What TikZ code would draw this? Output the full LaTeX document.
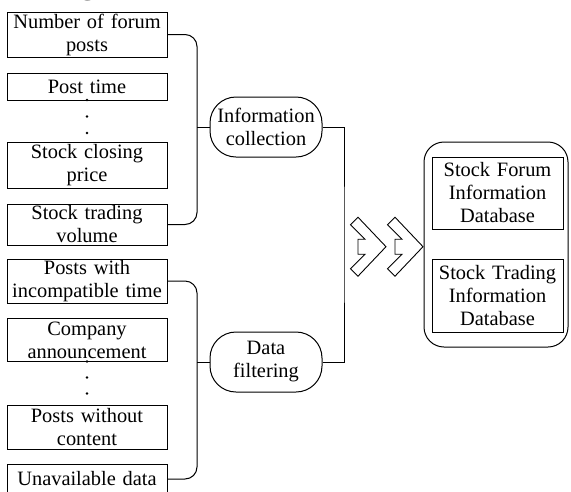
\documentclass[tikz,border=0pt]{standalone}
\usepackage{fontspec}
\setmainfont{Liberation Serif}
\newcommand\itemfont{\fontsize{20.4}{23}\selectfont}
\begin{document}
\begin{tikzpicture}[x=1pt,y=-1pt,
  link/.style={draw, line width=1pt},
  bracket/.style={link, rounded corners=12pt},
  item/.style={draw, line width=1pt, rectangle, inner sep=0pt,
    minimum width=160pt, text width=158pt, align=center, font=\itemfont},
  stage/.style={draw, line width=1pt, rounded corners=26pt, inner sep=0pt,
    minimum width=112pt, minimum height=60pt, align=center, font=\itemfont},
  db/.style={draw, line width=1pt, rounded corners=20pt, inner sep=0pt,
    minimum width=144pt, minimum height=205pt},
  dbitem/.style={draw, line width=1pt, inner sep=0pt, minimum width=131pt,
    text width=129pt, align=center, font=\itemfont},
  vdot/.style={fill=black, circle, inner sep=0pt, minimum size=2.6pt},
  chevron/.pic={
    \draw[line width=0.9pt, line join=miter]
      (-35.5,-22) -- (-28,-29.5) -- (0,0) -- (-28,29.5) -- (-35.5,22)
      -- (-21,7.5) -- (-28,7.5) -- (-28,-7.5) -- (-21,-7.5) -- cycle;
  }]
\useasboundingbox (0,0) rectangle (571,491);
\clip (0,0) rectangle (571,491);

% heading glyph cut by the top edge
\node[font=\fontsize{34}{34}\selectfont, anchor=base, inner sep=0pt] (head) at (88,-7) {g};

% collected items
\node[item, minimum height=45pt] (b1) at (87,34.5) {Number of forum\\posts};
\node[item, minimum height=27pt] (b2) at (87,86.5) {Post time};
\node[item, minimum height=46pt] (b3) at (87,165) {Stock closing\\price};
\node[item, minimum height=41pt] (b4) at (87,224.5) {Stock trading\\volume};
\node[vdot] (d1) at (87,100) {};
\node[vdot] (d2) at (87,116.5) {};
\node[vdot] (d3) at (87,133) {};

% filtered items
\node[item, minimum height=44pt] (b5) at (87,281) {Posts with\\incompatible time};
\node[item, minimum height=43pt] (b6) at (87,340) {Company\\announcement};
\node[item, minimum height=44pt] (b7) at (87,427) {Posts without\\content};
\node[item, minimum height=30pt] (b8) at (87,479) {Unavailable data};
\node[vdot] (d4) at (87,361.5) {};
\node[vdot] (d5) at (87,377.5) {};
\node[vdot] (d6) at (87,393.5) {};

% processing stages
\node[stage] (e1) at (266,127) {Information\\collection};
\node[stage] (e2) at (266,362) {Data\\filtering};

% brackets joining the items to the stages
\coordinate (j1) at (197,127);
\coordinate (j2) at (197,362);
\draw[bracket] (b1.east) -| (j1) |- (b4.east);
\draw[link] (j1) -- (e1.west);
\draw[bracket] (b5.east) -| (j2) |- (b8.east);
\draw[link] (j2) -- (e2.west);

% stages merged on the right
\coordinate (rj) at (344,244.5);
\draw[link] (e1.east) -| (rj) |- (e2.east);

% double chevron
\pic (ch1) at (386,246.7) {chevron};
\pic (ch2) at (423,246.7) {chevron};

% databases
\node[db] (dball) at (496,244.5) {};
\node[dbitem, minimum height=72pt] (db1) at (497.5,193) {Stock Forum\\Information\\Database};
\node[dbitem, minimum height=73pt] (db2) at (497.5,295.5) {Stock Trading\\Information\\Database};
\end{tikzpicture}
\end{document}
